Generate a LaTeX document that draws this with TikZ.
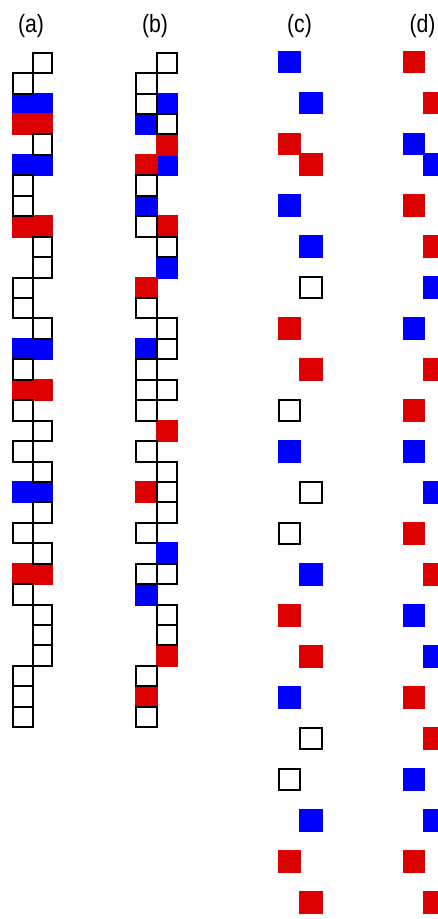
\documentclass[tikz,border=0pt]{standalone}
\usepackage{fontspec}
\setmainfont{Liberation Sans}
\definecolor{cblue}{RGB}{0,0,255}
\definecolor{cred}{RGB}{221,0,0}
\tikzset{
  wbox/.style={draw=black, line width=2pt},
  bbox/.style={draw=cblue, fill=cblue, line width=2pt},
  rbox/.style={draw=cred, fill=cred, line width=2pt},
  lbl/.style={font=\fontsize{25}{30}\selectfont, xscale=0.85, anchor=base, inner sep=0pt}
}
% grid cell for columns (a),(b)
\newcommand{\gridcell}[4]{%
  \pgfmathsetmacro\gyt{52.7+20.44*#3}%
  \pgfmathsetmacro\gyb{\gyt+20.44}%
  \draw[#4] (#1,\gyt) rectangle (#2,\gyb);}
% separate cell for columns (c),(d)
\newcommand{\dotcell}[4]{%
  \pgfmathsetmacro\dyt{51.7+20.5*#3}%
  \pgfmathsetmacro\dyb{\dyt+20.3}%
  \draw[#4] (#1,\dyt) rectangle (#2,\dyb);}
\begin{document}
\begin{tikzpicture}[x=1pt,y=-1pt]
\useasboundingbox (0,0) rectangle (438,919);
\clip (0,0) rectangle (438,919);
% labels
\node[lbl] (la) at (31,32.5) {(a)};
\node[lbl] (lb) at (155,32.5) {(b)};
\node[lbl] (lc) at (299.5,32.5) {(c)};
\node[lbl] (ld) at (422.5,32.5) {(d)};
% ---- column (a)
\foreach \r in {2,5,14,21} {\gridcell{13.4}{52.4}{\r}{bbox}}
\foreach \r in {3,8,16,25} {\gridcell{13.4}{52.4}{\r}{rbox}}
\foreach \r in {1,6,7,11,12,15,17,19,23,26,30,31,32} {\gridcell{13.4}{32.9}{\r}{wbox}}
\foreach \r in {0,4,9,10,13,18,20,22,24,27,28,29} {\gridcell{32.9}{52.4}{\r}{wbox}}
% ---- column (b)
\foreach \r in {3,7,14,26} {\gridcell{136}{156.6}{\r}{bbox}}
\foreach \r in {2,5,10,24} {\gridcell{156.6}{176.8}{\r}{bbox}}
\foreach \r in {5,11,21,31} {\gridcell{136}{156.6}{\r}{rbox}}
\foreach \r in {4,8,18,29} {\gridcell{156.6}{176.8}{\r}{rbox}}
\foreach \r in {1,2,6,8,12,15,16,17,19,23,25,30,32} {\gridcell{136}{156.6}{\r}{wbox}}
\foreach \r in {0,3,9,13,14,16,20,21,22,25,27,28} {\gridcell{156.6}{176.8}{\r}{wbox}}
% ---- column (c)
\foreach \r in {0,7,19,31} {\dotcell{279.3}{299.7}{\r}{bbox}}
\foreach \r in {2,9,25,37} {\dotcell{299.7}{321.7}{\r}{bbox}}
\foreach \r in {4,13,27,39} {\dotcell{279.3}{299.7}{\r}{rbox}}
\foreach \r in {5,15,29,41} {\dotcell{299.7}{321.7}{\r}{rbox}}
\foreach \r in {17,23,35} {\dotcell{279.3}{299.7}{\r}{wbox}}
\foreach \r in {11,21,33} {\dotcell{299.7}{321.7}{\r}{wbox}}
% ---- column (d)
\foreach \r in {0,7,17,23,31,39} {\dotcell{403.7}{424}{\r}{rbox}}
\foreach \r in {2,9,15,25,33,41} {\dotcell{423.7}{445.7}{\r}{rbox}}
\foreach \r in {4,13,19,27,35} {\dotcell{403.7}{424}{\r}{bbox}}
\foreach \r in {5,11,21,29,37} {\dotcell{423.7}{445.7}{\r}{bbox}}
\end{tikzpicture}
\end{document}
